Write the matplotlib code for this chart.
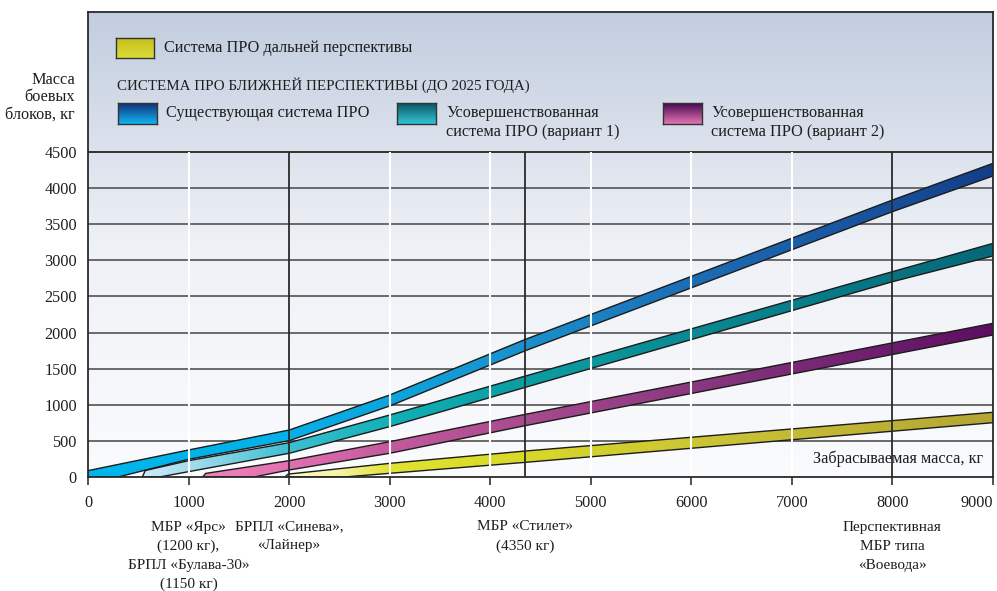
import matplotlib as mpl
mpl.use('Agg')
import matplotlib.pyplot as plt
import matplotlib.transforms as mtransforms
from matplotlib.colors import LinearSegmentedColormap
from matplotlib.patches import Polygon
import numpy as np

# throw weight (kg) vs warhead mass (kg), band edges
BLUE_UP_X = [0, 1000, 2000, 3000, 4350, 8000, 9000]
BLUE_UP_Y = [88, 374, 650, 1135, 1906, 3835, 4343]
BLUE_LO_X = [0, 300, 1000, 2000, 3000, 4350, 8000, 9000]
BLUE_LO_Y = [0, 0, 245, 503, 983, 1749, 3674, 4168]

TEAL_UP_X = [540, 570, 1000, 2000, 3000, 4350, 8000, 9000]
TEAL_UP_Y = [0, 90, 226, 475, 858, 1398, 2843, 3235]
TEAL_LO_X = [710, 1000, 2000, 3000, 4350, 8000, 9000]
TEAL_LO_Y = [0, 74, 328, 697, 1242, 2704, 3060]

PINK_UP_X = [1140, 1170, 2000, 3000, 4350, 9000]
PINK_UP_Y = [0, 50, 226, 489, 868, 2128]
PINK_LO_X = [1650, 2000, 3000, 4350, 9000]
PINK_LO_Y = [0, 97, 328, 711, 1966]

YEL_UP_X = [1958, 1990, 3000, 4350, 9000]
YEL_UP_Y = [0, 40, 189, 360, 896]
YEL_LO_X = [2550, 3000, 4350, 9000]
YEL_LO_Y = [0, 51, 203, 752]

X_TICKS = [0, 1000, 2000, 3000, 4000, 5000, 6000, 7000, 8000, 9000]
Y_TICKS = [0, 500, 1000, 1500, 2000, 2500, 3000, 3500, 4000, 4500]
WHITE_LINES = [1000, 3000, 4000, 5000, 6000, 7000]
DARK_LINES = [2000, 4350, 8000]

MISSILES = [
    (1000, ["МБР «Ярс»", "(1200 кг),", "БРПЛ «Булава-30»", "(1150 кг)"]),
    (2000, ["БРПЛ «Синева»,", "«Лайнер»"]),
    (4350, ["МБР «Стилет»", "(4350 кг)"]),
    (8000, ["Перспективная", "МБР типа", "«Воевода»"]),
]

BLUE_STOPS = [(0, '#00b6ec'), (2000, '#05b1e8'), (3000, '#0ea4dc'), (4350, '#1a90cc'),
              (6000, '#1d6db6'), (8000, '#184f9a'), (9000, '#133e86')]
TEAL_STOPS = [(540, '#cdebf8'), (1000, '#a6dbef'), (2000, '#3cbfd0'), (3000, '#12b0b8'),
              (4350, '#0a9ea2'), (6000, '#0a8a94'), (9000, '#066878')]
PINK_STOPS = [(1140, '#f283bb'), (2000, '#e070b0'), (3000, '#c45a9e'), (4350, '#a84a8e'),
              (6000, '#8a3880'), (8000, '#6c1c6c'), (9000, '#5e0e5e')]
YEL_STOPS = [(1958, '#fffbd4'), (2500, '#f5f3a0'), (3000, '#e2e230'), (4350, '#d8d828'),
             (6000, '#ccc634'), (9000, '#b5a535')]

FONT = 'Liberation Serif'
FS = 11.7
TXT = '#1e1e1e'
W, H = 997, 591
XMAX = 9000
YTOP = 4500 * (477 - 12) / (477 - 152)

fig = plt.figure(figsize=(W / 100, H / 100), dpi=100)
ax = fig.add_axes([88 / W, (H - 477) / H, (993 - 88) / W, (477 - 12) / H])
ax.set_xlim(0, XMAX)
ax.set_ylim(0, YTOP)

# background gradient
bg = LinearSegmentedColormap.from_list('bg', ['#fafbfd', '#eef1f6', '#c2cddf'])
ax.imshow(np.linspace(0, 1, 256).reshape(-1, 1), extent=[0, XMAX, 0, YTOP], origin='lower',
          aspect='auto', cmap=bg, zorder=0)

for y in Y_TICKS[1:]:
    ax.plot([0, XMAX], [y, y], color='#333333' if y == 4500 else '#6a6a6a', lw=1.4, zorder=1)


def band(ux, uy, lx, ly, stops):
    px = list(ux) + list(lx)[::-1]
    py = list(uy) + list(ly)[::-1]
    poly = Polygon(np.column_stack([px, py]), closed=True, facecolor='none',
                   edgecolor='#1c1c1c', lw=1.0, zorder=3)
    ax.add_patch(poly)
    x0 = min(px)
    cmap = LinearSegmentedColormap.from_list(
        'b', [((s - x0) / (XMAX - x0), c) for s, c in stops])
    im = ax.imshow(np.linspace(0, 1, 512).reshape(1, -1), extent=[x0, XMAX, 0, max(py) + 10],
                   origin='lower', aspect='auto', cmap=cmap, zorder=2)
    im.set_clip_path(poly)


band(YEL_UP_X, YEL_UP_Y, YEL_LO_X, YEL_LO_Y, YEL_STOPS)
band(PINK_UP_X, PINK_UP_Y, PINK_LO_X, PINK_LO_Y, PINK_STOPS)
band(TEAL_UP_X, TEAL_UP_Y, TEAL_LO_X, TEAL_LO_Y, TEAL_STOPS)
band(BLUE_UP_X, BLUE_UP_Y, BLUE_LO_X, BLUE_LO_Y, BLUE_STOPS)

ax.vlines(WHITE_LINES, 0, 4500, colors='white', lw=1.5, zorder=5)
ax.vlines(DARK_LINES, 0, 4500, colors='#2a2a2a', lw=1.3, zorder=5)

ax.set_xlim(0, XMAX)
ax.set_ylim(0, YTOP)
ax.set_xticks(X_TICKS)
ax.set_xticklabels([str(v) for v in X_TICKS], fontsize=FS, family=FONT, color=TXT)
ax.get_xticklabels()[-1].set_ha('right')
ax.set_yticks(Y_TICKS)
ax.set_yticklabels([str(v) for v in Y_TICKS], fontsize=FS, family=FONT, color=TXT)
ax.tick_params(axis='x', length=6, width=1.2, color='#333333', pad=7)
ax.tick_params(axis='y', length=0, pad=8)
for s in ax.spines.values():
    s.set_color('#2a2a2a')
    s.set_linewidth(1.3)
    s.set_zorder(6)

ax.text(0.9895, 259, "Забрасываемая масса, кг", transform=mtransforms.blended_transform_factory(
    ax.transAxes, ax.transData), ha='right', va='center', fontsize=FS, family=FONT, color=TXT, zorder=7)

fig.text(75 / W, 1 - 97 / H, "Масса\nбоевых\nблоков, кг", ha='right', va='center', fontsize=FS,
         family=FONT, color=TXT, linespacing=1.12, multialignment='right')

# missile names under the axis, one text per line
trans = mtransforms.blended_transform_factory(ax.transData, fig.transFigure)
for xv, lines in MISSILES:
    for i, line in enumerate(lines):
        ax.text(xv, 1 - (527 + 19 * i) / H, line, transform=trans, ha='center', va='center',
                fontsize=11, family=FONT, color=TXT)


def legend_patch(x0, y0, x1, y1, top, bottom):
    lax = fig.add_axes([x0 / W, 1 - y1 / H, (x1 - x0) / W, (y1 - y0) / H])
    cm = LinearSegmentedColormap.from_list('p', [bottom, top])
    lax.imshow(np.linspace(0, 1, 64).reshape(-1, 1), origin='lower', aspect='auto', cmap=cm)
    lax.set_xticks([])
    lax.set_yticks([])
    for s in lax.spines.values():
        s.set_color('#333333')
        s.set_linewidth(1.0)


legend_patch(116, 38, 154, 58, '#c4bf1c', '#dcdc3a')
legend_patch(118, 103, 157, 124, '#14307a', '#10b4f0')
legend_patch(397, 103, 436, 124, '#0a5664', '#34c4d4')
legend_patch(663, 103, 702, 124, '#480a50', '#e474b4')

fig.text(164 / W, 1 - 48 / H, "Система ПРО дальней перспективы", ha='left', va='center',
         fontsize=FS, family=FONT, color=TXT)
fig.text(117 / W, 1 - 85 / H, "СИСТЕМА ПРО БЛИЖНЕЙ ПЕРСПЕКТИВЫ (ДО 2025 ГОДА)", ha='left',
         va='center', fontsize=10.8, family=FONT, color=TXT)
fig.text(166 / W, 1 - 113 / H, "Существующая система ПРО", ha='left', va='center',
         fontsize=FS, family=FONT, color=TXT)
for x0, name in [(446, "(вариант 1)"), (711, "(вариант 2)")]:
    fig.text(x0 / W, 1 - 113 / H, "Усовершенствованная", ha='left', va='center',
             fontsize=FS, family=FONT, color=TXT)
    fig.text(x0 / W, 1 - 132 / H, "система ПРО " + name, ha='left', va='center',
             fontsize=FS, family=FONT, color=TXT)

fig.savefig('out.png', dpi=100)
